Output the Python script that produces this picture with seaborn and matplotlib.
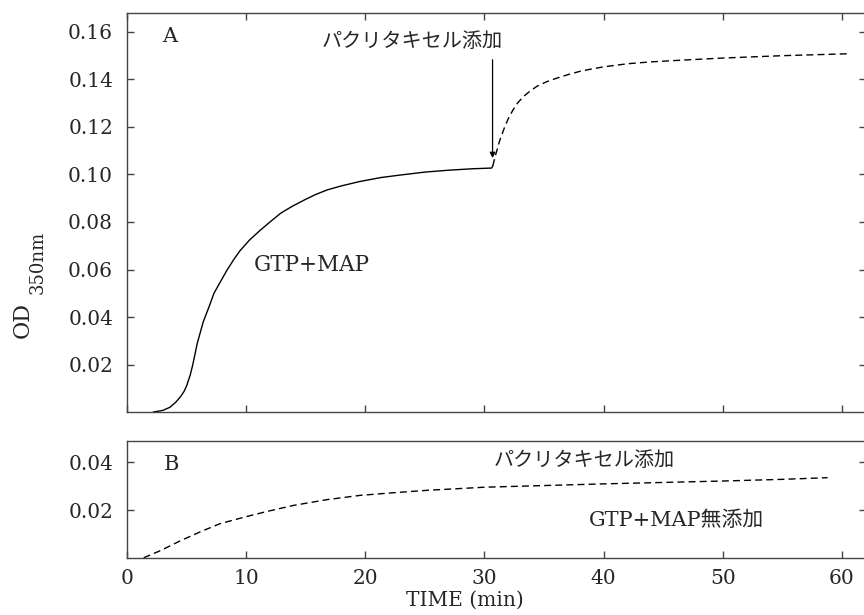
import matplotlib
matplotlib.use("Agg")
import matplotlib.pyplot as plt
import pandas as pd
import seaborn as sns

# Panel A: GTP+MAP, then paclitaxel added at ~30.7 min
a_solid_t = [2.2, 3.0, 3.6, 4.1, 4.5, 4.8, 5.0, 5.3, 5.5, 5.9, 6.4, 6.9, 7.3, 7.8,
             8.4, 9.0, 9.5, 10.3, 11.2, 12.0, 12.9, 13.9, 14.9, 15.8, 16.8, 18.0,
             19.5, 21.3, 23.0, 25.0, 27.0, 29.0, 30.6, 30.7]
a_solid_od = [0.0, 0.0007, 0.002, 0.0042, 0.0065, 0.0088, 0.011, 0.0155, 0.0195,
              0.029, 0.038, 0.0445, 0.050, 0.0545, 0.0598, 0.0645, 0.068, 0.0725,
              0.0766, 0.080, 0.0837, 0.0867, 0.0893, 0.0915, 0.0935, 0.0952,
              0.0970, 0.0987, 0.0998, 0.1010, 0.1018, 0.1024, 0.1027, 0.1036]
a_dash_t = [30.7, 30.9, 31.3, 31.7, 32.0, 32.4, 32.8, 33.3, 33.8, 34.4, 35.2,
            36.1, 37.0, 38.0, 39.0, 40.0, 42.0, 44.0, 46.5, 50.0, 55.0, 60.5]
a_dash_od = [0.1036, 0.1076, 0.1146, 0.1200, 0.1235, 0.1272, 0.1302, 0.1329,
             0.1350, 0.1371, 0.1390, 0.1406, 0.1420, 0.1434, 0.1444, 0.1453,
             0.1466, 0.1474, 0.1481, 0.1490, 0.1500, 0.1508]

# Panel B: no GTP+MAP, paclitaxel only
b_dash_t = [1.4, 2.8, 4.5, 6.2, 7.8, 9.8, 11.8, 14.0, 16.8, 19.6, 22.4, 25.2,
            30.0, 35.0, 40.0, 45.0, 50.0, 55.0, 58.8]
b_dash_od = [0.0, 0.003, 0.0072, 0.011, 0.0143, 0.0170, 0.0195, 0.0220, 0.0244,
             0.0262, 0.0273, 0.0283, 0.0296, 0.0303, 0.0310, 0.0316, 0.0322,
             0.0329, 0.0336]

a_yticks = [0.02, 0.04, 0.06, 0.08, 0.10, 0.12, 0.14, 0.16]
b_yticks = [0.02, 0.04]
x_ticks = [0, 10, 20, 30, 40, 50, 60]

sns.set_style("ticks")
plt.rcParams["font.family"] = ["DejaVu Serif", "Noto Sans CJK JP"]
plt.rcParams["mathtext.fontset"] = "dejavuserif"
JP = ["DejaVu Serif", "Noto Sans CJK JP"]
SPINE = "#444444"

fig = plt.figure(figsize=(8.64, 6.15), dpi=100)
ax_a = fig.add_axes([0.147, 0.330, 0.855, 0.649])
ax_b = fig.add_axes([0.147, 0.093, 0.855, 0.190])

dash = (0, (5, 3))
sns.lineplot(data=pd.DataFrame({"t": a_solid_t, "od": a_solid_od}), x="t", y="od",
             ax=ax_a, color="black", lw=1.0, sort=False)
sns.lineplot(data=pd.DataFrame({"t": a_dash_t, "od": a_dash_od}), x="t", y="od",
             ax=ax_a, color="black", lw=1.0, sort=False, linestyle=dash)
sns.lineplot(data=pd.DataFrame({"t": b_dash_t, "od": b_dash_od}), x="t", y="od",
             ax=ax_b, color="black", lw=1.0, sort=False, linestyle=dash)

for ax in (ax_a, ax_b):
    ax.set_xlim(0, 62)
    ax.set_xticks(x_ticks)
    ax.set_xlabel("")
    ax.set_ylabel("")
    for s in ax.spines.values():
        s.set_color(SPINE)
        s.set_linewidth(1.0)
    ax.tick_params(direction="in", length=5, width=1.0, color=SPINE,
                   labelsize=14.5, right=True, pad=10)

ax_a.set_ylim(0, 0.168)
ax_a.set_yticks(a_yticks)
ax_a.set_yticklabels([f"{v:.2f}" for v in a_yticks])
ax_a.tick_params(axis="x", top=True, bottom=True, labelbottom=False)

ax_b.set_ylim(0, 0.049)
ax_b.set_yticks(b_yticks)
ax_b.set_yticklabels([f"{v:.2f}" for v in b_yticks])
ax_b.tick_params(axis="x", top=False, bottom=True, pad=8)

# annotations panel A
ax_a.text(3.6, 0.158, "A", fontsize=15, ha="center", va="center")
ax_a.text(15.5, 0.062, "GTP+MAP", fontsize=15.5, ha="center", va="center")
ax_a.text(23.9, 0.156, "パクリタキセル添加", fontsize=14.5, family=JP,
          ha="center", va="center")
ax_a.annotate("", xy=(30.68, 0.1069), xytext=(30.68, 0.1483),
              arrowprops=dict(arrowstyle="-|>", color="black", lw=0.9,
                              mutation_scale=8, shrinkA=0, shrinkB=0))

# annotations panel B
ax_b.text(3.7, 0.039, "B", fontsize=15, ha="center", va="center")
ax_b.text(38.4, 0.0406, "パクリタキセル添加", fontsize=14.5, family=JP,
          ha="center", va="center")
ax_b.text(46.1, 0.0157, "GTP+MAP無添加", fontsize=15, family=JP,
          ha="center", va="center")

ax_b.set_xlabel("TIME (min)", fontsize=14.5)
ax_b.xaxis.set_label_coords(0.4576, -0.367)
ax_b.xaxis.label.set_va("center")

fig.text(22.5 / 864, 1 - 320 / 615, "OD", rotation=90, fontsize=16,
         ha="center", va="center")
fig.text(37.5 / 864, 1 - 262 / 615, "350nm", rotation=90, fontsize=13,
         ha="center", va="center")

fig.savefig("out.png", dpi=100)
